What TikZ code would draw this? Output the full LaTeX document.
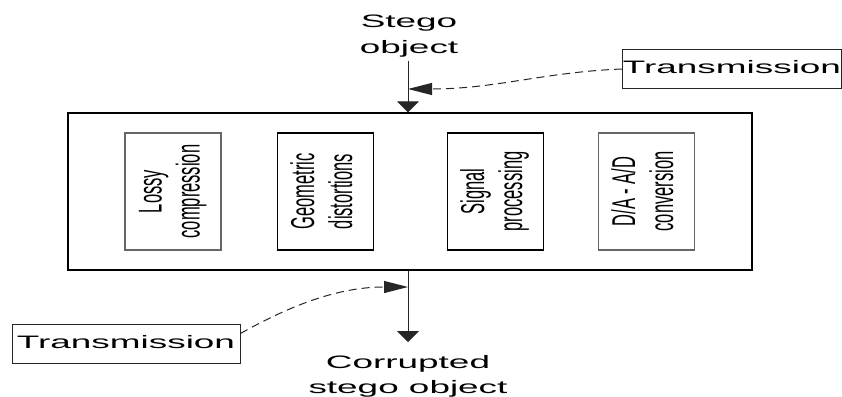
\documentclass[tikz,border=0pt]{standalone}
\usepackage{fontspec}
\setmainfont{Liberation Sans}
\usepackage{graphicx}
\usetikzlibrary{arrows.meta}
\newcommand\htext[1]{\scalebox{2.05}[1]{\fontsize{18}{25}\selectfont\begin{tabular}{@{}c@{}}#1\end{tabular}}}
\newcommand\rtext[1]{\scalebox{2}[1]{\rotatebox{90}{\fontsize{16.5}{19}\selectfont\begin{tabular}{@{}c@{}}#1\end{tabular}}}}
\tikzset{
  mainbox/.style={draw=black, line width=1.3pt, minimum width=684pt, minimum height=157pt, inner sep=0pt},
  opbox/.style={draw=#1, line width=1.1pt, minimum width=96pt, minimum height=117pt, inner sep=0pt},
  tbox/.style={draw=black!85, line width=1pt, minimum height=38pt, inner sep=0pt},
  lbl/.style={inner sep=0pt},
  flow/.style={draw=black!85, line width=1pt, -{Triangle[width=22pt,length=11pt]}},
  noise/.style={draw=black!85, line width=1pt, dash pattern=on 8pt off 5pt, -{Triangle[width=12pt,length=24pt]}}
}
\begin{document}
\begin{tikzpicture}[x=1pt,y=-1pt]
\useasboundingbox (0,0) rectangle (842,396);
\node[mainbox] (main) at (410,191.5) {};
\node[opbox=black!60] (lossy) at (173,191.5) {\rtext{Lossy\\compression}};
\node[opbox=black] (geo) at (325.5,191.5) {\rtext{Geometric\\distortions}};
\node[opbox=black] (sig) at (495.5,191.5) {\rtext{Signal\\processing}};
\node[opbox=black!60] (da) at (646.5,191.5) {\rtext{D/A - A/D\\conversion}};
\node[lbl] (stego) at (409,35.5) {\htext{Stego\\object}};
\node[lbl] (corrupt) at (408,375.5) {\htext{Corrupted\\stego object}};
\node[tbox, anchor=west, minimum width=219pt] (trans1) at (622,69) {\htext{Transmission}};
\node[tbox, minimum width=228pt, minimum height=39pt] (trans2) at (126,343.5) {\htext{Transmission}};
\coordinate (topin) at (408,89);
\coordinate (botout) at (408,342);
\coordinate (botin) at (408,287);
\draw[flow] (stego.south -| topin) -- (main.north -| topin);
\draw[flow] (main.south -| botout) -- (botout);
\draw[noise] (trans1.west) .. controls (545,72) and (495,89) .. (topin);
\draw[noise] (trans2.5) .. controls (300,300) and (345,287) .. (botin);
\end{tikzpicture}
\end{document}
